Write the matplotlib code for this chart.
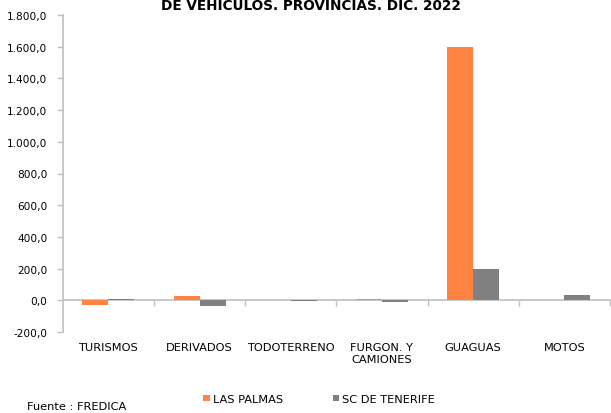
import matplotlib
matplotlib.use("Agg")
import matplotlib.pyplot as plt
import numpy as np
from matplotlib.ticker import FuncFormatter, FixedLocator
import matplotlib.transforms as mtransforms

categories = ["TURISMOS", "DERIVADOS", "TODOTERRENO", "FURGON. Y\nCAMIONES", "GUAGUAS", "MOTOS"]
las_palmas = [-30.0, 27.0, 2.0, 7.0, 1600.0, 3.0]
sc_tenerife = [8.0, -36.0, -4.0, -10.0, 198.0, 34.0]
series_names = ["LAS PALMAS", "SC DE TENERIFE"]
title = "DE VEHICULOS. PROVINCIAS. DIC. 2022"
source = "Fuente : FREDICA"

plt.rcParams['font.family'] = ['DejaVu Sans']
W, H = 611, 414
fig = plt.figure(figsize=(W / 100, H / 100), dpi=100)

x0, x1 = 62.7, 610.0
y_top, y_bot = 16.0, 333.0
ax = fig.add_axes([x0 / W, 1 - y_bot / H, (x1 - x0) / W, (y_bot - y_top) / H])

orange = "#FF8442"
gray = "#808080"
axis_gray = "#BFBFBF"
fs = 8.2

x = np.arange(len(categories))
bw = 0.285
ax.bar(x - bw / 2, las_palmas, width=bw, color=orange, label=series_names[0], zorder=3)
ax.bar(x + bw / 2, sc_tenerife, width=bw, color=gray, label=series_names[1], zorder=3)

ax.set_xlim(-0.5, len(categories) - 0.5)
ax.set_ylim(-200, 1800)
ax.set_yticks(np.arange(-200, 1801, 200))
ax.yaxis.set_major_formatter(FuncFormatter(
    lambda v, p: ("{:,.1f}".format(v)).replace(",", "X").replace(".", ",").replace("X", ".")))

for s in ["top", "right"]:
    ax.spines[s].set_visible(False)
ax.spines["left"].set_color(axis_gray)
ax.spines["left"].set_linewidth(1.2)
ax.spines["bottom"].set_position(("data", 0))
ax.spines["bottom"].set_color(axis_gray)
ax.spines["bottom"].set_linewidth(1.2)

ax.xaxis.set_major_locator(FixedLocator(np.arange(0.5, len(categories), 1.0)))
ax.set_xticklabels([])
ax.tick_params(axis="x", direction="out", length=4, color=axis_gray, width=1.0)
ax.tick_params(axis="y", direction="out", length=4, color=axis_gray, width=1.0,
               labelsize=7.6, pad=7, labelcolor="#000000")

trans = mtransforms.blended_transform_factory(ax.transData, ax.transAxes)
for xi, lab in zip(x, categories):
    ax.text(xi, -10 / (y_bot - y_top), lab, transform=trans, ha="center", va="top",
            fontsize=fs, linespacing=1.3)

fig.text(311 / W, 1 - 6 / H, title, ha="center", va="center", fontsize=9.8, fontweight="bold")

leg = fig.legend(loc="center", bbox_to_anchor=(319 / W, 1 - 400 / H), ncol=2, frameon=False,
                 fontsize=fs, handlelength=0.55, handleheight=0.55, handletextpad=0.25,
                 columnspacing=4.4)
fig.text(27 / W, 1 - 407 / H, source, ha="left", va="center", fontsize=fs)

fig.savefig("out.png", dpi=100)
